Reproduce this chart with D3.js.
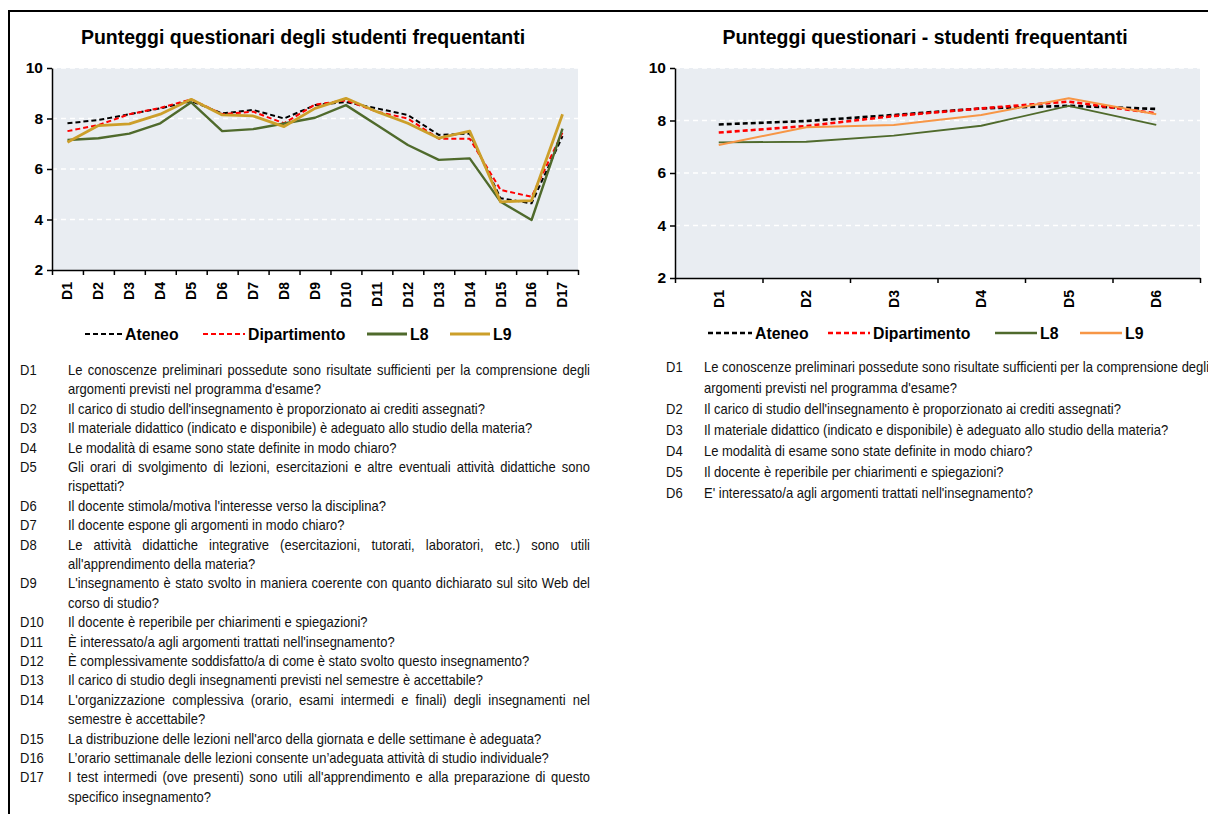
<!DOCTYPE html>
<html>
<head>
<meta charset="utf-8">
<script src="https://cdn.jsdelivr.net/npm/d3@7"></script>
<style>
  body { margin: 0; background: #fff; }
</style>
</head>
<body>
<div id="container"></div>
<script>
let width = 1208;
let height = 814;

// ---- data: left chart (17 domande)
const leftCats = ["D1", "D2", "D3", "D4", "D5", "D6", "D7", "D8", "D9", "D10", "D11", "D12", "D13", "D14", "D15", "D16", "D17"];
const leftAteneo = [7.81, 7.94, 8.17, 8.40, 8.69, 8.20, 8.34, 8.00, 8.53, 8.65, 8.40, 8.14, 7.35, 7.40, 4.84, 4.64, 7.30];
const leftDip = [7.50, 7.74, 8.17, 8.42, 8.76, 8.17, 8.27, 7.81, 8.55, 8.72, 8.27, 8.00, 7.20, 7.20, 5.17, 4.90, 7.45];
const leftL8 = [7.15, 7.22, 7.40, 7.81, 8.64, 7.50, 7.58, 7.80, 8.03, 8.53, 7.74, 6.95, 6.36, 6.42, 4.70, 3.98, 7.60];
const leftL9 = [7.06, 7.72, 7.79, 8.17, 8.76, 8.14, 8.10, 7.68, 8.40, 8.80, 8.27, 7.81, 7.22, 7.50, 4.70, 4.75, 8.17];

// ---- data: right chart (6 domande)
const rightCats = ["D1", "D2", "D3", "D4", "D5", "D6"];
const rightAteneo = [7.85, 7.98, 8.21, 8.46, 8.56, 8.44];
const rightDip = [7.54, 7.79, 8.17, 8.46, 8.72, 8.27];
const rightL8 = [7.17, 7.19, 7.42, 7.80, 8.56, 7.83];
const rightL9 = [7.07, 7.74, 7.83, 8.21, 8.85, 8.24];

const seriesNames = ["Ateneo", "Dipartimento", "L8", "L9"];
const yTicks = [2, 4, 6, 8, 10];

const leftQuestions = [
  ["Le conoscenze preliminari possedute sono risultate sufficienti per la comprensione degli", "argomenti previsti nel programma d'esame?"],
  ["Il carico di studio dell'insegnamento è proporzionato ai crediti assegnati?"],
  ["Il materiale didattico (indicato e disponibile) è adeguato allo studio della materia?"],
  ["Le modalità di esame sono state definite in modo chiaro?"],
  ["Gli orari di svolgimento di lezioni, esercitazioni e altre eventuali attività didattiche sono", "rispettati?"],
  ["Il docente stimola/motiva l'interesse verso la disciplina?"],
  ["Il docente espone gli argomenti in modo chiaro?"],
  ["Le attività didattiche integrative (esercitazioni, tutorati, laboratori, etc.) sono utili", "all'apprendimento della materia?"],
  ["L'insegnamento è stato svolto in maniera coerente con quanto dichiarato sul sito Web del", "corso di studio?"],
  ["Il docente è reperibile per chiarimenti e spiegazioni?"],
  ["È interessato/a agli argomenti trattati nell'insegnamento?"],
  ["È complessivamente soddisfatto/a di come è stato svolto questo insegnamento?"],
  ["Il carico di studio degli insegnamenti previsti nel semestre è accettabile?"],
  ["L'organizzazione complessiva (orario, esami intermedi e finali) degli insegnamenti nel", "semestre è accettabile?"],
  ["La distribuzione delle lezioni nell'arco della giornata e delle settimane è adeguata?"],
  ["L’orario settimanale delle lezioni consente un’adeguata attività di studio individuale?"],
  ["I test intermedi (ove presenti) sono utili all'apprendimento e alla preparazione di questo", "specifico insegnamento?"]
];

const rightQuestions = [
  ["Le conoscenze preliminari possedute sono risultate sufficienti per la comprensione degli", "argomenti previsti nel programma d'esame?"],
  ["Il carico di studio dell'insegnamento è proporzionato ai crediti assegnati?"],
  ["Il materiale didattico (indicato e disponibile) è adeguato allo studio della materia?"],
  ["Le modalità di esame sono state definite in modo chiaro?"],
  ["Il docente è reperibile per chiarimenti e spiegazioni?"],
  ["E' interessato/a agli argomenti trattati nell'insegnamento?"]
];

const svg = d3.select("#container").append("svg")
  .attr("width", width)
  .attr("height", height)
  .style("font-family", "'Liberation Sans', Arial, sans-serif");

// black frame (top + left)
svg.append("path")
  .attr("d", "M9,814V11H1208")
  .attr("fill", "none")
  .attr("stroke", "#000")
  .attr("stroke-width", 2);

function drawChart(cfg) {
  const x = d3.scaleBand().domain(cfg.cats).range([cfg.left, cfg.right]);
  const y = d3.scaleLinear().domain([2, 10]).range([cfg.bottom, cfg.top]);
  const g = svg.append("g");

  g.append("text")
    .attr("x", cfg.titleX)
    .attr("y", 44)
    .attr("text-anchor", "middle")
    .attr("font-size", 19.5)
    .attr("font-weight", "bold")
    .text(cfg.title);

  g.append("rect")
    .attr("x", cfg.left)
    .attr("y", cfg.top)
    .attr("width", cfg.right - cfg.left)
    .attr("height", cfg.bottom - cfg.top)
    .attr("fill", "#e9edf2");

  // white dashed grid
  g.append("g")
    .selectAll("line")
    .data(yTicks.filter(v => v > 2))
    .join("line")
    .attr("x1", cfg.left)
    .attr("x2", cfg.right)
    .attr("y1", d => y(d))
    .attr("y2", d => y(d))
    .attr("stroke", "#fff")
    .attr("stroke-width", 1.3)
    .attr("stroke-dasharray", "5,4");

  const line = d3.line()
    .x((d, i) => x(cfg.cats[i]) + x.bandwidth() / 2)
    .y(d => y(d));

  cfg.series.forEach(s => {
    g.append("path")
      .datum(s.values)
      .attr("d", line)
      .attr("fill", "none")
      .attr("stroke", s.color)
      .attr("stroke-width", s.width)
      .attr("stroke-dasharray", s.dash)
      .attr("stroke-linejoin", "round");
  });

  // y axis
  const ya = g.append("g")
    .attr("transform", `translate(${cfg.left},0)`)
    .call(d3.axisLeft(y).tickValues(yTicks).tickSize(5).tickPadding(4).tickSizeOuter(0));
  ya.select(".domain").attr("stroke-width", 1.5);
  ya.selectAll(".tick line").attr("stroke-width", 1.5);
  ya.selectAll("text")
    .attr("font-size", 15.5)
    .attr("font-weight", "bold")
    .attr("font-family", "'Liberation Sans', Arial, sans-serif")
    .attr("fill", "#000");

  // x axis: ticks on band boundaries
  const bounds = d3.scaleLinear().domain([0, cfg.cats.length]).range([cfg.left, cfg.right]);
  const xb = g.append("g")
    .attr("transform", `translate(0,${cfg.bottom})`)
    .call(d3.axisBottom(bounds).ticks(cfg.cats.length).tickSize(5).tickSizeOuter(0).tickFormat(""));
  xb.select(".domain").attr("stroke-width", 1.5);
  xb.selectAll(".tick line").attr("stroke-width", 1.5);

  const xl = g.append("g")
    .attr("transform", `translate(0,${cfg.bottom})`)
    .call(d3.axisBottom(x).tickSize(0));
  xl.select(".domain").remove();
  xl.selectAll("text")
    .attr("font-size", 14)
    .attr("font-weight", "bold")
    .attr("font-family", "'Liberation Sans', Arial, sans-serif")
    .attr("fill", "#000")
    .attr("text-anchor", "end")
    .attr("transform", "rotate(-90)")
    .attr("x", -cfg.labelGap)
    .attr("y", 0)
    .attr("dy", "0.35em");

  // legend
  const lg = g.append("g");
  cfg.series.forEach((s, i) => {
    const lx = cfg.legendX[i];
    lg.append("line")
      .attr("x1", lx)
      .attr("x2", lx + cfg.legendLen[i])
      .attr("y1", cfg.legendY)
      .attr("y2", cfg.legendY)
      .attr("stroke", s.color)
      .attr("stroke-width", s.legendWidth)
      .attr("stroke-dasharray", s.dash);
    lg.append("text")
      .attr("x", lx + cfg.legendLen[i] + 3)
      .attr("y", cfg.legendY + 5.5)
      .attr("font-size", 15.8)
      .attr("font-weight", "bold")
      .text(s.name);
  });
}

// question list, regular font squeezed horizontally to look condensed
function drawQuestions(cfg) {
  const sx = cfg.squeeze;
  const g = svg.append("g")
    .attr("transform", `translate(${cfg.textX},0) scale(${sx},1)`)
    .attr("font-family", "'Liberation Sans', Arial, sans-serif")
    .attr("font-size", cfg.fontSize)
    .attr("fill", "#111");
  let row = 0;
  cfg.items.forEach((lines, k) => {
    const by = cfg.startY + row * cfg.step;
    g.append("text")
      .attr("x", (cfg.labelX - cfg.textX) / sx)
      .attr("y", by)
      .text("D" + (k + 1));
    lines.forEach((ln, j) => {
      const ty = cfg.startY + (row + j) * cfg.step;
      const t = g.append("text").attr("x", 0).attr("y", ty);
      if (cfg.justify && j < lines.length - 1) {
        // justified line: spread words over the full width,
        // squeezing the words a bit more if they would not fit
        const words = ln.split(" ");
        const spans = words.map(w => t.append("tspan").text(w));
        const ws = spans.map(sp => sp.node().getComputedTextLength());
        const avail = cfg.justify / sx;
        const minGap = 3.6 / sx;
        const total = d3.sum(ws);
        let k2 = 1;
        if (total + minGap * (words.length - 1) > avail) {
          k2 = (avail - minGap * (words.length - 1)) / total;
          t.attr("transform", `scale(${k2},1)`);
        }
        const gap = (avail - total * k2) / (words.length - 1);
        let cx = 0;
        spans.forEach((sp, i) => {
          sp.attr("x", cx / k2);
          cx += ws[i] * k2 + gap;
        });
      } else {
        t.text(ln);
      }
    });
    row += lines.length;
  });
}

drawChart({
  cats: leftCats,
  left: 52, right: 578, top: 68, bottom: 270,
  title: "Punteggi questionari degli studenti frequentanti",
  titleX: 303,
  labelGap: 12,
  series: [
    {name: seriesNames[0], values: leftAteneo, color: "#000", width: 2, legendWidth: 2, dash: "5,3"},
    {name: seriesNames[1], values: leftDip, color: "#ff0000", width: 2, legendWidth: 2, dash: "5,3"},
    {name: seriesNames[2], values: leftL8, color: "#4f6a2c", width: 2.4, legendWidth: 3, dash: null},
    {name: seriesNames[3], values: leftL9, color: "#cc9f2a", width: 2.8, legendWidth: 3, dash: null}
  ],
  legendX: [85, 203, 367, 450],
  legendLen: [37, 42, 40, 40],
  legendY: 334
});

drawChart({
  cats: rightCats,
  left: 675, right: 1200, top: 68, bottom: 278,
  title: "Punteggi questionari - studenti frequentanti",
  titleX: 925,
  labelGap: 12,
  series: [
    {name: seriesNames[0], values: rightAteneo, color: "#000", width: 2.6, legendWidth: 2.5, dash: "5,3"},
    {name: seriesNames[1], values: rightDip, color: "#ff0000", width: 2.6, legendWidth: 2.5, dash: "5,3"},
    {name: seriesNames[2], values: rightL8, color: "#4f6a2c", width: 1.8, legendWidth: 2.5, dash: null},
    {name: seriesNames[3], values: rightL9, color: "#f79646", width: 2, legendWidth: 2.5, dash: null}
  ],
  legendX: [708, 828, 995, 1080],
  legendLen: [44, 42, 42, 42],
  legendY: 333
});

drawQuestions({
  items: leftQuestions,
  labelX: 20, textX: 68,
  startY: 375, step: 19.4,
  fontSize: 14.6,
  squeeze: 0.89,
  justify: 522
});

drawQuestions({
  items: rightQuestions,
  labelX: 666, textX: 704,
  startY: 372, step: 21,
  fontSize: 14.6,
  squeeze: 0.89,
  justify: 0
});
</script>
</body>
</html>
